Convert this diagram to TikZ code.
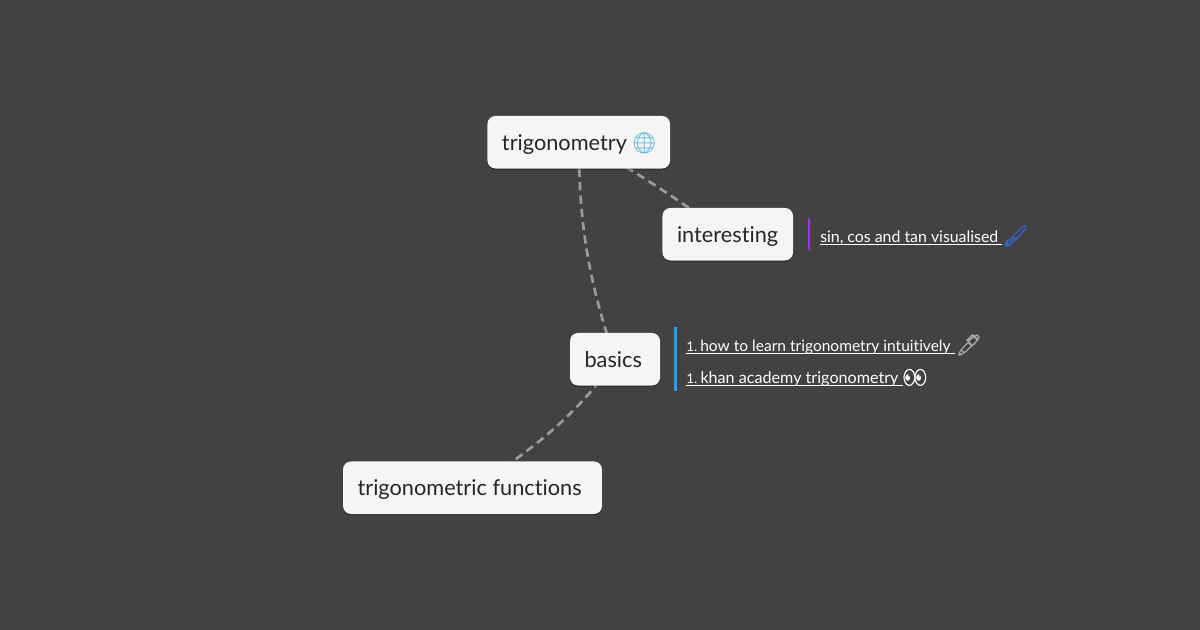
\documentclass[tikz,border=0pt]{standalone}
\usepackage{fontspec}
\usetikzlibrary{backgrounds,shadows}
\setmainfont{Lato}[Ligatures=NoCommon]
\newfontfamily\emojifont{Noto Emoji}
\newfontfamily\emojibold{Noto Emoji}[FakeBold=1.5]
\definecolor{bgc}{HTML}{424242}
\definecolor{boxc}{HTML}{F5F5F5}
\definecolor{inkc}{HTML}{262626}
\definecolor{edgec}{HTML}{9A9A9A}
\definecolor{purplec}{HTML}{A030E0}
\definecolor{bluec}{HTML}{1E9FF0}
\definecolor{globec}{HTML}{58B4E0}
\definecolor{brushc}{HTML}{3A62C8}
\definecolor{penc}{HTML}{A8A8A8}
\tikzset{
  x=0.75pt,y=-0.75pt,
  topic/.style={fill=boxc,rounded corners=6pt,text=inkc,minimum height=39.4pt,inner sep=0pt,
    font=\fontsize{16.3pt}{20pt}\selectfont,
    drop shadow={shadow xshift=0pt,shadow yshift=-0.8pt,opacity=.45,fill=black}},
  link/.style={anchor=base west,inner sep=0pt,text=white,font=\fontsize{11.9pt}{14pt}\selectfont},
  conn/.style={draw=edgec,line width=2pt,dash pattern=on 6.2pt off 3.8pt},
  bar/.style={line width=2.1pt}
}
\newcommand{\emo}[2]{{\emojifont\color{#1}#2}}
\newcommand{\emob}[2]{{\emojibold\color{#1}#2}}
\newcommand{\lnk}[1]{\setbox0=\hbox{#1}\rlap{\raisebox{-1.3pt}{\rule{\wd0}{0.6pt}}}\box0}
\newcommand{\numsty}{\fontsize{10pt}{14pt}\selectfont}
\newcommand{\topictext}[2]{\raisebox{-6pt}[0pt][0pt]{\makebox[#1][l]{\hspace{10.9pt}#2}}}
\begin{document}
\begin{tikzpicture}
\useasboundingbox (0,0) rectangle (1200,630);
\node[topic] (trig) at (578.75,142.25) {\topictext{137pt}{trigonometry\ \kern-1pt\emo{globec}{\fontsize{15.6pt}{18pt}\selectfont 🌐}}};
\node[topic] (inter) at (727.75,234.25) {\topictext{97.9pt}{interesting}};
\node[topic] (basics) at (615,359.25) {\topictext{67.5pt}{basics}};
\node[topic] (func) at (472.5,487.75) {\topictext{194.2pt}{trigonometric functions}};
\draw[bar,purplec] (809,218) -- (809,250);
\draw[bar,bluec] (675.2,327) -- (675.2,391);
\node[link] (l1) at (820,243) {\lnk{sin, cos and tan visualised\ }\emob{brushc}{\fontsize{15.5pt}{18pt}\selectfont 🖌}};
\node[link,font=\fontsize{11.65pt}{14pt}\selectfont] (l2) at (686,352) {\lnk{{\numsty 1.} \kern-1.6pt how to learn trigonometry intuitively\ }\kern1pt\emob{penc}{\fontsize{15.5pt}{18pt}\selectfont 🖊}};
\node[link,font=\fontsize{12.1pt}{14pt}\selectfont] (l3) at (686,384) {\lnk{{\numsty 1.} \kern-1.6pt khan academy trigonometry\ }\emob{white}{\fontsize{14.5pt}{18pt}\selectfont 👀}};
\begin{scope}[on background layer]
\fill[bgc] (0,0) rectangle (1200,630);
\draw[conn] (trig.center) .. controls (579,235) and (592,290) .. (basics.center);
\draw[conn] (trig.center) .. controls (620,160) and (670,195) .. (inter.center);
\draw[conn] (basics.center) .. controls (588,402) and (540,447) .. (func.center);
\end{scope}
\end{tikzpicture}
\end{document}
